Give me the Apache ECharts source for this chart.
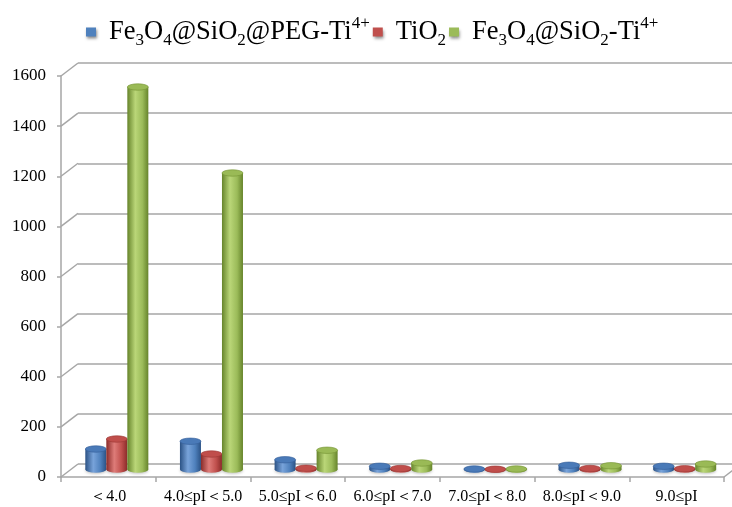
<!DOCTYPE html>
<html>
<head>
<meta charset="utf-8">
<script src="https://cdn.jsdelivr.net/npm/echarts@6/dist/echarts.min.js"></script>
<style>
  html, body { margin: 0; padding: 0; background: #fff; }
  #chart { width: 732px; height: 507px; }
</style>
</head>
<body>
<div id="chart"></div>
<script>
// pI ranges and the number of identified peptides per material
const categories = ['＜4.0', '4.0≤pI＜5.0', '5.0≤pI＜6.0', '6.0≤pI＜7.0', '7.0≤pI＜8.0', '8.0≤pI＜9.0', '9.0≤pI'];
const pegTi = [82, 113, 39, 13, 2, 17, 13];
const tio2 = [122, 62, 5, 4, 1, 4, 3];
const sio2Ti = [1530, 1186, 77, 26, 2, 15, 22];
const yTicks = [0, 200, 400, 600, 800, 1000, 1200, 1400, 1600];

const seriesNames = ['Fe3O4@SiO2@PEG-Ti4+', 'TiO2', 'Fe3O4@SiO2-Ti4+'];
const legendRich = {
  'Fe3O4@SiO2@PEG-Ti4+': '{g|}{n|Fe}{b|3}{n|O}{b|4}{n|@SiO}{b|2}{n|@PEG-Ti}{p|4+}',
  'TiO2': '{g|}{n|TiO}{b|2}',
  'Fe3O4@SiO2-Ti4+': '{g|}{n|Fe}{b|3}{n|O}{b|4}{n|@SiO}{b|2}{n|-Ti}{p|4+}'
};

// pseudo-3D layout: front plane, middle plane (bars), back wall
const FRONT = { left: 61, right: 8, top: 76, bottom: 30 };
const DX = 17, DY = 13;
const MID = { left: FRONT.left + DX / 2, right: FRONT.right - DX / 2, top: FRONT.top - DY / 2, bottom: FRONT.bottom + DY / 2 + 1 };
const BACK = { left: FRONT.left + DX, right: FRONT.right - DX, top: FRONT.top - DY, bottom: FRONT.bottom + DY };

const palette = [
  { dark: '#2b5285', light: '#78a3da', mid: '#4f81bd', top: '#4a7ab8', edge: '#36609a' },
  { dark: '#8a2b29', light: '#de7c79', mid: '#c0504d', top: '#c04e4b', edge: '#9c3835' },
  { dark: '#66842b', light: '#bad678', mid: '#9bbb59', top: '#9aba56', edge: '#779636' }
];

function cylinder(idx) {
  const c = palette[idx];
  return function (params, api) {
    const cat = api.value(0), v = api.value(1);
    const base = api.coord([cat, 0]);
    const top = api.coord([cat, v]);
    const band = api.size([1, 0])[0];
    const w = band * 0.222;
    const cx = base[0] + (idx - 1) * w;
    const rx = w / 2, ry = 3.2;
    const grad = () => new echarts.graphic.LinearGradient(0, 0, 1, 0, [
      { offset: 0, color: c.dark },
      { offset: 0.38, color: c.light },
      { offset: 0.72, color: c.mid },
      { offset: 1, color: c.dark }
    ]);
    return {
      type: 'group',
      children: [
        { type: 'circle', shape: { cx: 0, cy: 0, r: rx }, x: cx, y: base[1], scaleY: ry / rx,
          style: { fill: grad(), shadowBlur: 3, shadowColor: 'rgba(0,0,0,0.25)', shadowOffsetY: 1 } },
        { type: 'rect', shape: { x: cx - rx, y: top[1], width: w, height: Math.max(0, base[1] - top[1]) },
          style: { fill: grad() } },
        { type: 'circle', shape: { cx: 0, cy: 0, r: rx }, x: cx, y: top[1], scaleY: ry / rx,
          style: { fill: c.top, stroke: c.edge, lineWidth: 1, strokeNoScale: true } }
      ]
    };
  };
}

function toPairs(arr) { return arr.map((v, i) => [i, v]); }

const lineColor = '#a6a6a6';
const serif = 'Liberation Serif, Times New Roman, serif';

const chart = echarts.init(document.getElementById('chart'));
chart.setOption({
  animation: false,
  backgroundColor: '#fff',
  legend: {
    data: seriesNames,
    top: 10,
    left: 81,
    icon: 'rect',
    itemWidth: 10,
    itemHeight: 9,
    itemGap: 3,
    itemStyle: { shadowBlur: 3, shadowColor: 'rgba(0,0,0,0.45)', shadowOffsetX: 1, shadowOffsetY: 2 },
    formatter: name => legendRich[name],
    textStyle: {
      rich: {
        g: { width: 8 },
        n: { fontSize: 26.5, fontFamily: serif, color: '#000', lineHeight: 34 },
        b: { fontSize: 17, fontFamily: serif, color: '#000', lineHeight: 18, verticalAlign: 'bottom' },
        p: { fontSize: 17, fontFamily: serif, color: '#000', lineHeight: 26, verticalAlign: 'top' }
      }
    }
  },
  grid: [
    { left: FRONT.left, right: FRONT.right, top: FRONT.top, bottom: FRONT.bottom },
    { left: BACK.left, right: BACK.right, top: BACK.top, bottom: BACK.bottom },
    { left: MID.left, right: MID.right, top: MID.top, bottom: MID.bottom }
  ],
  xAxis: [
    { type: 'category', gridIndex: 0, data: categories,
      axisLine: { lineStyle: { color: lineColor, width: 1.5 } },
      axisTick: { show: true, length: 5, lineStyle: { color: lineColor, width: 1.5 } },
      axisLabel: { color: '#000', fontSize: 16, fontFamily: serif, margin: 12, interval: 0 } },
    { type: 'category', gridIndex: 1, data: categories, show: false },
    { type: 'category', gridIndex: 2, data: categories, show: false }
  ],
  yAxis: [
    { type: 'value', gridIndex: 0, min: 0, max: 1600, interval: 200,
      axisLine: { show: true, lineStyle: { color: lineColor, width: 1.5 } },
      axisTick: { show: true, length: 4, lineStyle: { color: lineColor, width: 1.5 } },
      splitLine: { show: false },
      axisLabel: { color: '#000', fontSize: 17, fontFamily: serif, margin: 15, formatter: v => String(v) } },
    { type: 'value', gridIndex: 1, min: 0, max: 1600, interval: 200,
      axisLine: { show: false }, axisTick: { show: false }, axisLabel: { show: false },
      splitLine: { show: true, lineStyle: { color: lineColor, width: 1.5 } } },
    { type: 'value', gridIndex: 2, min: 0, max: 1600, interval: 200, show: false }
  ],
  series: [
    // depth edges joining the front axis to the back wall
    { type: 'custom', xAxisIndex: 0, yAxisIndex: 0, silent: true, z: 1,
      data: yTicks.map(v => [0, v]),
      renderItem: function (params, api) {
        const p = api.coord([0, api.value(1)]);
        const x0 = params.coordSys.x;
        return { type: 'line', shape: { x1: x0, y1: p[1], x2: x0 + DX, y2: p[1] - DY },
          style: { stroke: lineColor, lineWidth: 1.5 } };
      } },
    { type: 'custom', xAxisIndex: 0, yAxisIndex: 0, silent: true, z: 1,
      data: [[0, 0]],
      renderItem: function (params, api) {
        const p = api.coord([0, 0]);
        const x1 = params.coordSys.x + params.coordSys.width;
        return { type: 'line', shape: { x1: x1, y1: p[1], x2: x1 + DX, y2: p[1] - DY },
          style: { stroke: lineColor, lineWidth: 1.5 } };
      } },
    { name: seriesNames[0], type: 'custom', xAxisIndex: 2, yAxisIndex: 2, z: 3,
      itemStyle: { color: palette[0].mid }, encode: { x: 0, y: 1 },
      data: toPairs(pegTi), renderItem: cylinder(0) },
    { name: seriesNames[1], type: 'custom', xAxisIndex: 2, yAxisIndex: 2, z: 3,
      itemStyle: { color: palette[1].mid }, encode: { x: 0, y: 1 },
      data: toPairs(tio2), renderItem: cylinder(1) },
    { name: seriesNames[2], type: 'custom', xAxisIndex: 2, yAxisIndex: 2, z: 3,
      itemStyle: { color: palette[2].mid }, encode: { x: 0, y: 1 },
      data: toPairs(sio2Ti), renderItem: cylinder(2) }
  ]
});
</script>
</body>
</html>
